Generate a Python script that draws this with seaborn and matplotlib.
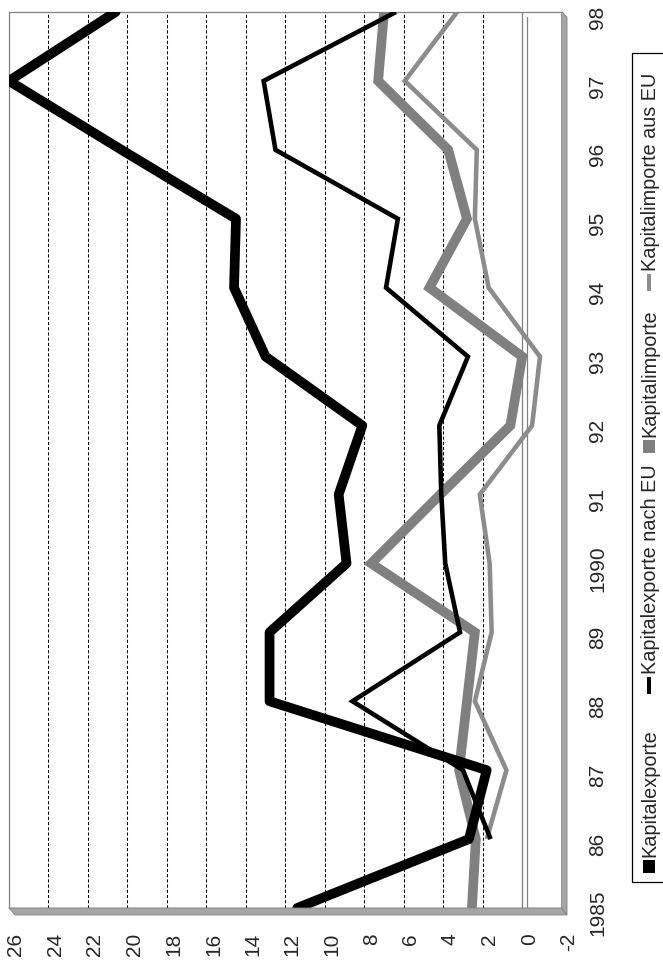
import numpy as np
import pandas as pd
import matplotlib
matplotlib.use('Agg')
import matplotlib.pyplot as plt
import matplotlib.transforms as mtransforms
from matplotlib.patches import Polygon, Rectangle
import seaborn as sns

# data
years = [1985, 1986, 1987, 1988, 1989, 1990, 1991, 1992, 1993, 1994, 1995, 1996, 1997, 1998]
year_labels = ['1985', '86', '87', '88', '89', '1990', '91', '92', '93', '94', '95', '96', '97', '98']
kapitalexporte = [11.4, 2.7, 1.8, 12.8, 12.8, 8.9, 9.3, 8.1, 13.0, 14.6, 14.5, 20.3, 26.0, 20.6]
kapitalexporte_eu = [np.nan, 1.6, 3.0, 8.6, 3.15, 3.9, 4.1, 4.2, 2.75, 6.9, 6.3, 12.5, 13.1, 6.4]
kapitalimporte = [2.55, 2.35, 3.2, 2.8, 2.4, 7.65, 4.15, 0.6, 0.0, 4.7, 2.8, 3.75, 7.3, 7.0]
kapitalimporte_eu = [np.nan, 1.8, 0.8, 2.4, 1.55, 1.65, 2.15, -0.5, -0.9, 1.7, 2.4, 2.3, 5.95, 3.3]
value_ticks = [26, 24, 22, 20, 18, 16, 14, 12, 10, 8, 6, 4, 2, 0, -2]

df = pd.DataFrame({'Jahr': years,
                   'Kapitalexporte': kapitalexporte,
                   'Kapitalexporte nach EU': kapitalexporte_eu,
                   'Kapitalimporte': kapitalimporte,
                   'Kapitalimporte aus EU': kapitalimporte_eu})

W, H = 663, 963
def fx(px):
    return px / W
def fy(py):
    return 1 - py / H

sns.set_style('white')
plt.rcParams['font.family'] = ['Liberation Sans', 'DejaVu Sans']
plt.rcParams['font.size'] = 15

fig = plt.figure(figsize=(W / 100, H / 100), dpi=100)
left, right, top, bottom = 9, 561.7, 12, 908
ax = fig.add_axes([fx(left), fy(bottom), fx(right) - fx(left), fy(top) - fy(bottom)])

# chart is drawn turned on its side: values run along x, years along y
styles = [('Kapitalimporte', '#808080', 7.0, 'butt', 'miter'),
          ('Kapitalimporte aus EU', '#8c8c8c', 3.3, 'butt', 'miter'),
          ('Kapitalexporte', 'black', 7.0, 'round', 'round'),
          ('Kapitalexporte nach EU', 'black', 3.3, 'butt', 'miter')]
for name, color, lw, cap, join in styles:
    d = df[['Jahr', name]].dropna()
    sns.lineplot(data=d, x=name, y='Jahr', orient='y', ax=ax, color=color,
                 linewidth=lw, solid_capstyle=cap, solid_joinstyle=join,
                 errorbar=None, zorder=3)

ax.set_xlim(26, -2)
ax.set_ylim(1985, 1998)
ax.set_xlabel('')
ax.set_ylabel('')
ax.set_xticks(value_ticks)
ax.set_xticklabels([str(v) for v in value_ticks])
ax.set_yticks(years)
ax.set_yticklabels(year_labels)
ax.tick_params(axis='x', length=0, pad=18, labelrotation=90, labelsize=15)
ax.tick_params(axis='y', length=0, pad=19, labelrotation=90, labelsize=15,
               left=False, labelleft=False, labelright=True)
for lab in ax.get_yticklabels():
    lab.set_va('center')
    lab.set_ha('left')

ax.grid(axis='x', color='black', linestyle=(0, (3, 2)), linewidth=0.75)
ax.grid(axis='y', visible=False)
glines = ax.xaxis.get_gridlines()
for i, v in enumerate(value_ticks):
    if v in (26, 0, -2):
        glines[i].set_visible(False)

for sp in ax.spines.values():
    sp.set_color('#808080')
    sp.set_linewidth(0.9)

# zero line with its 3D shadow
ax.axvline(0, color='#808080', lw=0.9, zorder=2)
z2 = ax.axvline(0, color='#808080', lw=0.9, zorder=2, clip_on=False)
z2.set_transform(z2.get_transform() + mtransforms.ScaledTranslation(0.05, -0.05, fig.dpi_scale_trans))

# 3D floor and side wall strips
floor = Polygon([(fx(9), fy(908)), (fx(561.7), fy(908)), (fx(567), fy(915)), (fx(15), fy(915))],
                closed=True, transform=fig.transFigure, facecolor='#a6a6a6', edgecolor='#808080', lw=0.6)
wall = Polygon([(fx(561.7), fy(12)), (fx(567), fy(17)), (fx(567), fy(915)), (fx(561.7), fy(908))],
               closed=True, transform=fig.transFigure, facecolor='#a6a6a6', edgecolor='#808080', lw=0.6)
fig.add_artist(floor)
fig.add_artist(wall)

# shift tick labels like the 3D offset in the reference
off_x = mtransforms.ScaledTranslation(0.07, 0, fig.dpi_scale_trans)
for lab in ax.get_xticklabels():
    lab.set_transform(lab.get_transform() + off_x)
off_y = mtransforms.ScaledTranslation(0, -0.05, fig.dpi_scale_trans)
for lab in ax.get_yticklabels():
    lab.set_transform(lab.get_transform() + off_y)

# legend, turned sideways too
fig.add_artist(Rectangle((fx(632), fy(882)), fx(668) - fx(632), fy(53) - fy(882),
                         transform=fig.transFigure, facecolor='white', edgecolor='black', lw=0.9))
entries = [('Kapitalexporte', 'black', 'box', 866, 857),
           ('Kapitalexporte nach EU', 'black', 'dash', 685, 674),
           ('Kapitalimporte', '#808080', 'box', 447, 437),
           ('Kapitalimporte aus EU', '#8c8c8c', 'dash', 283, 271)]
for label, color, kind, my, ty in entries:
    if kind == 'box':
        w, h = 12, 13
    else:
        w, h = 4, 17
    fig.add_artist(Rectangle((fx(649 - w / 2), fy(my + h / 2)), w / W, h / H,
                             transform=fig.transFigure, facecolor=color, edgecolor='none'))
    fig.text(fx(650), fy(ty), label, rotation=90, ha='center', va='bottom', fontsize=14.3)

fig.savefig('out.png', dpi=100)
